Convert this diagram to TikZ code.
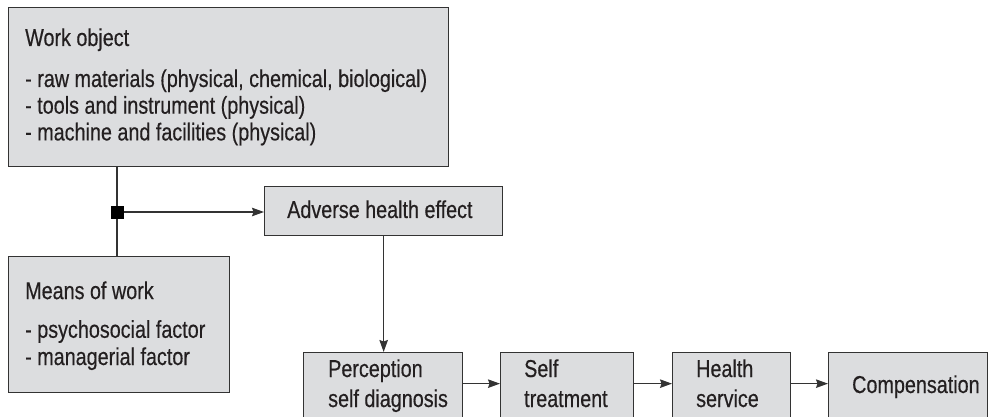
\documentclass[tikz,border=0pt]{standalone}
\usepackage{fontspec}
\setmainfont{Liberation Sans}[FakeStretch=0.81,FakeBold=0.4]
\usetikzlibrary{arrows.meta}
\definecolor{boxfill}{HTML}{DCDDDF}
\definecolor{boxline}{HTML}{333333}
\definecolor{txtcol}{HTML}{231F20}
\begin{document}
\begin{tikzpicture}[x=1pt,y=-1pt,
  font=\fontsize{24.4}{26.7}\selectfont,
  box/.style={draw=boxline, fill=boxfill, line width=1.3pt, rectangle, anchor=north west, inner sep=0pt},
  txt/.style={inner sep=0pt, align=left, text=txtcol, anchor=base west},
  link/.style={draw=boxline, line width=1.3pt},
  arr/.style={link, -{Stealth[length=12pt,width=8.5pt,inset=1.5pt]}},
  junction/.style={fill=black, draw=none, minimum size=13pt, inner sep=0pt, rectangle}]
\useasboundingbox (0,0) rectangle (991,417);
\clip (0,0) rectangle (991,417);
% boxes
\node[box, minimum width=440pt, minimum height=159pt] (work) at (8,7) {};
\node[box, minimum width=221pt, minimum height=136pt] (means) at (8,256) {};
\node[box, minimum width=238pt, minimum height=49pt] (adverse) at (264,186) {};
\node[box, minimum width=159pt, minimum height=69pt] (perc) at (303,352) {};
\node[box, minimum width=133pt, minimum height=69pt] (self) at (500,352) {};
\node[box, minimum width=118pt, minimum height=69pt] (health) at (672,352) {};
\node[box, minimum width=159pt, minimum height=69pt] (comp) at (828,352) {};
% box texts (anchored at the baseline of the last line)
\node[txt] (workT) at (25,140.4)
  {Work object\\[14.3pt]- raw materials (physical, chemical, biological)\\- tools and instrument (physical)\\- machine and facilities (physical)};
\node[txt] (meansT) at (25,365)
  {Means of work\\[12pt]- psychosocial factor\\[0.5pt]- managerial factor};
\node[txt] (adverseT) at (287,218) {Adverse health effect};
\node[txt] (percT) at (328,407) {Perception\\[3.3pt]self diagnosis};
\node[txt] (selfT) at (524,407) {Self\\[3.3pt]treatment};
\node[txt] (healthT) at (696,407) {Health\\[3.3pt]service};
\node[txt] (compT) at (852,393) {Compensation};
% junction and connectors
\coordinate (jc) at (117,212);
\draw[link] (work.south -| jc) -- (means.north -| jc);
\node[junction] (j) at (jc) {};
\draw[arr] (j.east) -- (j -| adverse.west);
\draw[arr] (adverse.south) -- (adverse.south |- perc.north);
\draw[arr] ([yshift=3.5pt]perc.east) -- ([yshift=3.5pt]self.west);
\draw[arr] ([yshift=3.5pt]self.east) -- ([yshift=3.5pt]health.west);
\draw[arr] ([yshift=3.5pt]health.east) -- ([yshift=3.5pt]comp.west);
\end{tikzpicture}
\end{document}
